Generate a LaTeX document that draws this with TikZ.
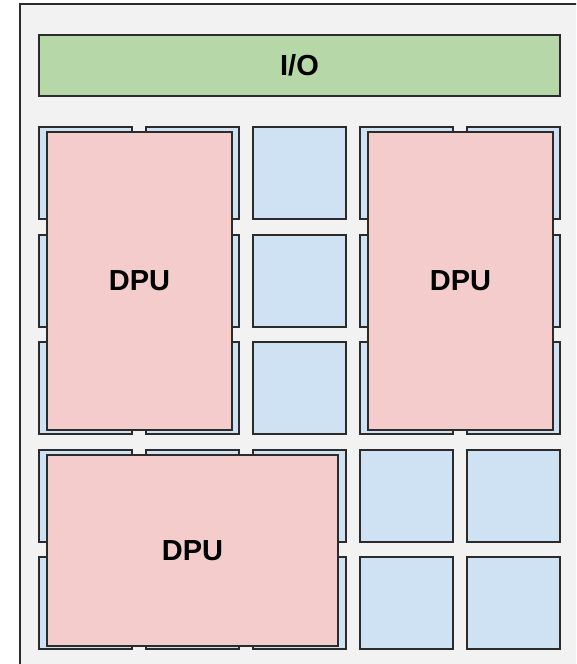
\documentclass[tikz,border=0pt]{standalone}
\usepackage{fontspec}
\setmainfont{Liberation Sans}
\usepackage{xcolor}
\usetikzlibrary{positioning}

\definecolor{chipgray}{HTML}{F2F2F2}
\definecolor{iogreen}{HTML}{B6D7A8}
\definecolor{tileblue}{HTML}{CFE2F3}
\definecolor{dpupink}{HTML}{F4CCCC}
\definecolor{edgegray}{HTML}{2B2B2B}

\begin{document}
\begin{tikzpicture}[
    x=1pt, y=-1pt,
    every node/.style={font=\fontsize{29}{34}\selectfont\bfseries},
    chip/.style={draw=edgegray, line width=2pt, fill=chipgray},
    tile/.style={draw=edgegray, line width=2pt, fill=tileblue, rectangle, minimum width=93pt, minimum height=92pt, inner sep=0pt},
    iobox/.style={draw=edgegray, line width=2pt, fill=iogreen, rectangle, minimum width=521pt, minimum height=61pt},
    dpu/.style={draw=edgegray, line width=2pt, fill=dpupink, rectangle, inner sep=0pt}
]
\useasboundingbox (0,0) rectangle (576,664);
\clip (0,0) rectangle (576,664);

% chip outline, runs off the right and bottom edge
\draw[chip] (20,4) rectangle (620,720);

\node[iobox] (io) at (299.5,65.5) {I/O};

% 5 x 5 grid of tiles
\foreach \i in {0,...,4} {
  \foreach \j in {0,...,4} {
    \node[tile] (tile-\i-\j) at ({85.5+107*\i},{173+107.5*\j}) {};
  }
}

% DPUs on top of the tiles
\node[dpu, minimum width=185pt, minimum height=298pt] (dpu1) at (139.5,281) {DPU};
\node[dpu, minimum width=185pt, minimum height=298pt] (dpu2) at (460.5,281) {DPU};
\node[dpu, minimum width=291pt, minimum height=191pt] (dpu3) at (192.5,550.5) {DPU};
\end{tikzpicture}
\end{document}
